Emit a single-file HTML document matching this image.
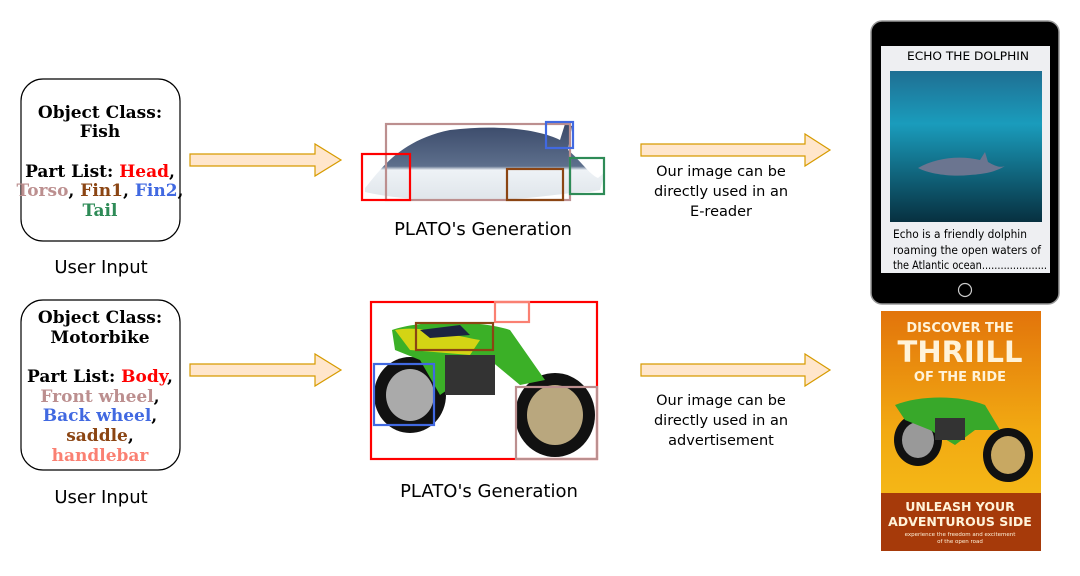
<!DOCTYPE html>
<html><head><style>
body{margin:0;background:#fff;width:1080px;height:571px;overflow:hidden}
svg text{font-family:"DejaVu Sans","Liberation Sans",sans-serif}
.s{font-family:"DejaVu Serif","Liberation Serif",serif;font-weight:bold;font-size:17px}
</style></head><body>
<svg width="1080" height="571" viewBox="0 0 1080 571" xmlns="http://www.w3.org/2000/svg">
<defs>
<linearGradient id="sea" x1="0" y1="0" x2="0" y2="1"><stop offset="0" stop-color="#1f6f93"/><stop offset="0.35" stop-color="#1a9cbc"/><stop offset="1" stop-color="#073040"/></linearGradient>
<linearGradient id="post" x1="0" y1="0" x2="0" y2="1"><stop offset="0" stop-color="#e2740b"/><stop offset="0.5" stop-color="#f2aa12"/><stop offset="1" stop-color="#f6c21a"/></linearGradient>
<linearGradient id="dol" x1="0" y1="0" x2="0" y2="1"><stop offset="0" stop-color="#3b4a6a"/><stop offset="0.55" stop-color="#5d6f8c"/><stop offset="0.6" stop-color="#eef2f6"/><stop offset="1" stop-color="#dfe5ea"/></linearGradient>
</defs>
<rect x="21" y="79" width="159" height="162" rx="22" fill="#fff" stroke="#000" stroke-width="1.2"/>
<text class="s" text-anchor="middle" x="100" y="118">Object Class:</text>
<text class="s" text-anchor="middle" x="100" y="137">Fish</text>
<text class="s" text-anchor="middle" x="100" y="177">Part List: <tspan fill="#f00">Head</tspan>,</text>
<text class="s" text-anchor="middle" x="100" y="196"><tspan fill="#bc8f8f">Torso</tspan>, <tspan fill="#8b4513">Fin1</tspan>, <tspan fill="#4169e1">Fin2</tspan>,</text>
<text class="s" text-anchor="middle" x="100" y="216" fill="#2e8b57">Tail</text>
<text x="101" y="273" text-anchor="middle" font-size="18">User Input</text>

<rect x="21" y="300" width="159" height="170" rx="22" fill="#fff" stroke="#000" stroke-width="1.2"/>
<text class="s" text-anchor="middle" x="100" y="323">Object Class:</text>
<text class="s" text-anchor="middle" x="100" y="343">Motorbike</text>
<text class="s" text-anchor="middle" x="100" y="382">Part List: <tspan fill="#f00">Body</tspan>,</text>
<text class="s" text-anchor="middle" x="100" y="402"><tspan fill="#bc8f8f">Front wheel</tspan>,</text>
<text class="s" text-anchor="middle" x="100" y="421"><tspan fill="#4169e1">Back wheel</tspan>,</text>
<text class="s" text-anchor="middle" x="100" y="441"><tspan fill="#8b4513">saddle</tspan>,</text>
<text class="s" text-anchor="middle" x="100" y="461" fill="#fa8072">handlebar</text>
<text x="101" y="503" text-anchor="middle" font-size="18">User Input</text>

<g fill="#ffe6cc" stroke="#d79b00" stroke-width="1.2">
<path d="M190 154H315V144L341 160L315 176V166H190Z"/>
<path d="M190 364H315V354L341 370L315 386V376H190Z"/>
<path d="M641 144H805V134L830 150L805 166V156H641Z"/>
<path d="M641 364H805V354L830 370L805 386V376H641Z"/>
</g>

<path d="M365 188 C380 170 400 140 450 130 C500 124 540 130 560 140 L565 124 L572 126 L568 150 C580 160 590 175 598 178 L605 172 L600 190 L590 192 C570 192 540 198 500 200 C450 202 400 200 365 192Z" fill="url(#dol)"/>
<g fill="none" stroke-width="2.2">
<rect x="386" y="124" width="184" height="76" stroke="#bc8f8f"/>
<rect x="362" y="154" width="48" height="46" stroke="#f00"/>
<rect x="546" y="122" width="27" height="26" stroke="#4169e1"/>
<rect x="570" y="158" width="34" height="36" stroke="#2e8b57"/>
<rect x="507" y="169" width="56" height="31" stroke="#8b4513"/>
</g>
<text x="483" y="235" text-anchor="middle" font-size="18">PLATO's Generation</text>

<g>
<ellipse cx="410" cy="395" rx="36" ry="38" fill="#111"/><ellipse cx="410" cy="395" rx="24" ry="26" fill="#aaa"/>
<ellipse cx="555" cy="415" rx="40" ry="42" fill="#111"/><ellipse cx="555" cy="415" rx="28" ry="30" fill="#b9a77e"/>
<path d="M392 330 C420 320 480 320 510 330 L545 380 L520 385 L490 360 L440 395 L420 360 L395 350Z" fill="#3bb027"/>
<path d="M395 330 C420 325 450 335 480 340 L470 355 L410 350Z" fill="#d4d414"/>
<rect x="445" y="355" width="50" height="40" fill="#333"/>
<path d="M420 330 L460 325 L470 335 L430 338Z" fill="#1c2440"/>
</g>
<g fill="none" stroke-width="2.2">
<rect x="371" y="302" width="226" height="157" stroke="#f00"/>
<rect x="495" y="302" width="34" height="20" stroke="#fa8072"/>
<rect x="416" y="323" width="77" height="27" stroke="#8b4513"/>
<rect x="374" y="364" width="60" height="61" stroke="#4169e1"/>
<rect x="516" y="387" width="81" height="72" stroke="#bc8f8f"/>
</g>
<text x="489" y="497" text-anchor="middle" font-size="18">PLATO's Generation</text>

<g font-size="14.5" text-anchor="middle">
<text x="721" y="176">Our image can be</text>
<text x="721" y="196">directly used in an</text>
<text x="721" y="216">E-reader</text>
<text x="721" y="405">Our image can be</text>
<text x="721" y="425">directly used in an</text>
<text x="721" y="445">advertisement</text>
</g>

<rect x="871" y="21" width="188" height="283" rx="11" fill="#000" stroke="#999" stroke-width="1.5"/>
<rect x="881" y="46" width="169" height="227" fill="#eeeff2"/>
<text x="968" y="60" text-anchor="middle" font-size="11.5" textLength="122" lengthAdjust="spacingAndGlyphs">ECHO THE DOLPHIN</text>
<rect x="890" y="71" width="152" height="151" fill="url(#sea)"/>
<path d="M918 168 C935 158 960 155 980 160 L985 152 L988 162 C995 166 1000 168 1005 166 C995 172 985 174 970 175 C950 177 930 174 918 168Z" fill="#6b7590"/>
<g font-size="11.5"><text x="893" y="238" textLength="134" lengthAdjust="spacingAndGlyphs">Echo is a friendly dolphin</text>
<text x="893" y="254" textLength="148" lengthAdjust="spacingAndGlyphs">roaming the open waters of</text>
<text x="893" y="269" textLength="154" lengthAdjust="spacingAndGlyphs">the Atlantic ocean.....................</text></g>
<circle cx="965" cy="290" r="6.5" fill="none" stroke="#ccc" stroke-width="1.2"/>

<rect x="881" y="311" width="160" height="240" fill="url(#post)"/>
<rect x="881" y="493" width="160" height="58" fill="#a63a0a"/>
<g fill="#fff3d9" text-anchor="middle" font-weight="bold">
<text x="960" y="332" font-size="13">DISCOVER THE</text>
<text x="960" y="362" font-size="29">THRIILL</text>
<text x="960" y="381" font-size="13">OF THE RIDE</text>
<text x="960" y="511" font-size="12.5">UNLEASH YOUR</text>
<text x="960" y="526" font-size="12.5">ADVENTUROUS SIDE</text>
<text x="960" y="536" font-size="5.5" font-weight="normal">experience the freedom and excitement</text>
<text x="960" y="543" font-size="5.5" font-weight="normal">of the open road</text>
</g>
<ellipse cx="918" cy="440" rx="24" ry="26" fill="#111"/><ellipse cx="918" cy="440" rx="16" ry="18" fill="#999"/>
<ellipse cx="1008" cy="455" rx="25" ry="27" fill="#111"/><ellipse cx="1008" cy="455" rx="17" ry="19" fill="#c8a862"/>
<path d="M895 405 C920 395 960 395 985 405 L1000 430 L975 430 L955 445 L930 430 L905 420Z" fill="#38a82a"/>
<rect x="935" y="418" width="30" height="22" fill="#333"/>
</svg>
</body></html>
